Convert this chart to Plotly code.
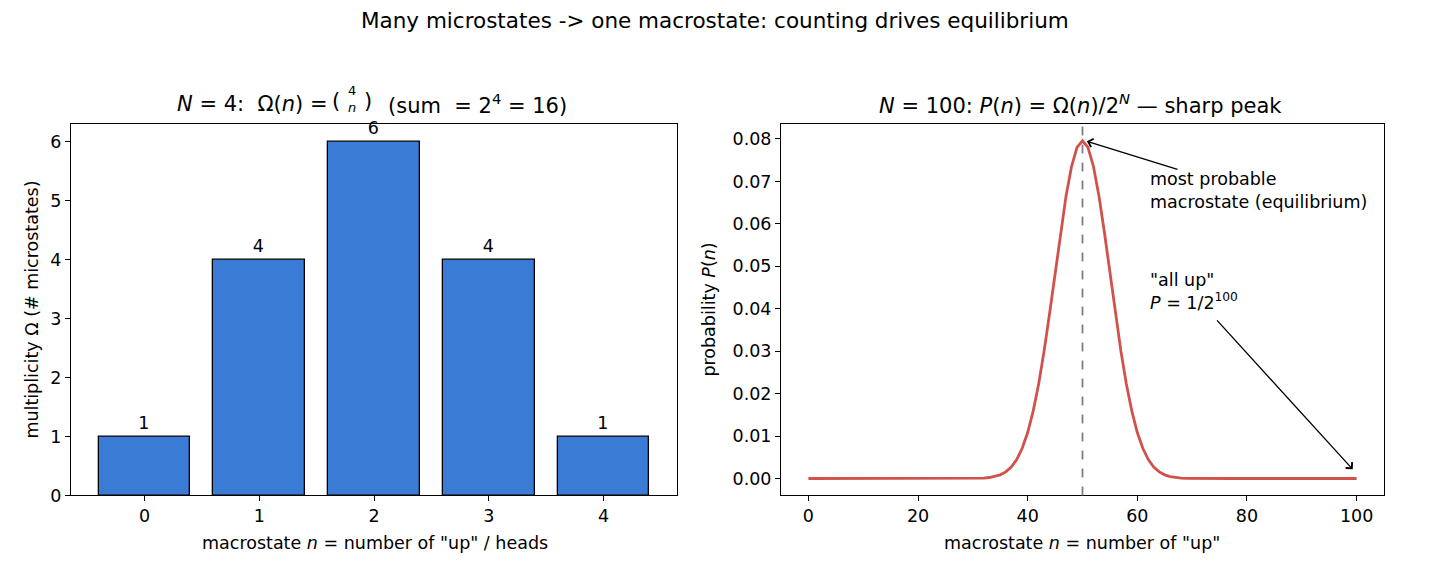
import plotly.graph_objects as go

# ---- data ----
n_small = [0, 1, 2, 3, 4]
omega_small = [1, 4, 6, 4, 1]

n_big = list(range(0, 101))
p_big = [
    0, 0, 0, 0, 0, 0, 0, 0, 0, 0,
    0, 0, 0, 0, 0, 0, 0, 0, 0, 0,
    0, 0, 0, 0, 0, 0, 0, 0, 0, 0.00001,
    0.00002, 0.00005, 0.00011, 0.00023, 0.00046, 0.00086, 0.00156, 0.00270, 0.00447, 0.00711,
    0.01084, 0.01587, 0.02229, 0.03007, 0.03895, 0.04847, 0.05796, 0.06659, 0.07353, 0.07803,
    0.07959,
    0.07803, 0.07353, 0.06659, 0.05796, 0.04847, 0.03895, 0.03007, 0.02229, 0.01587, 0.01084,
    0.00711, 0.00447, 0.00270, 0.00156, 0.00086, 0.00046, 0.00023, 0.00011, 0.00005, 0.00002,
    0.00001, 0, 0, 0, 0, 0, 0, 0, 0, 0,
    0, 0, 0, 0, 0, 0, 0, 0, 0, 0,
    0, 0, 0, 0, 0, 0, 0, 0, 0, 0,
]
n_peak = 50

left_xticks = [0, 1, 2, 3, 4]
left_yticks = [0, 1, 2, 3, 4, 5, 6]
right_xticks = [0, 20, 40, 60, 80, 100]
right_yticks = [0.00, 0.01, 0.02, 0.03, 0.04, 0.05, 0.06, 0.07, 0.08]

FONT = "DejaVu Sans"
W, H = 1430, 585
FS = 17.5      # base text size
FT = 21        # subplot titles
FSUP = 21.5    # suptitle

fig = go.Figure()

fig.add_trace(go.Bar(
    x=n_small, y=omega_small, width=0.8,
    marker=dict(color="#3a7bd5", line=dict(color="black", width=1.3)),
    text=[str(v) for v in omega_small], textposition="outside",
    textfont=dict(family=FONT, size=FS, color="black"),
    cliponaxis=False, xaxis="x", yaxis="y", showlegend=False,
))

fig.add_trace(go.Scatter(
    x=n_big, y=p_big, mode="lines",
    line=dict(color="#d1524b", width=2.8),
    xaxis="x2", yaxis="y2", showlegend=False,
))

def px_x(p):
    return p / W

def px_y(p):
    return 1 - p / H

axis_common = dict(
    showline=True, mirror=True, linecolor="black", linewidth=1,
    ticks="outside", ticklen=5, tickcolor="black", tickwidth=1,
    showgrid=False, zeroline=False,
    tickfont=dict(family=FONT, size=FS, color="black"),
)

fig.update_layout(
    width=W, height=H,
    margin=dict(l=0, r=0, t=0, b=0),
    plot_bgcolor="white", paper_bgcolor="white",
    font=dict(family=FONT, color="black"),
    bargap=0,
    uniformtext=dict(minsize=8, mode="show"),
    xaxis=dict(domain=[px_x(71), px_x(677)], range=[-0.64, 4.64],
               tickvals=left_xticks, anchor="y", **axis_common),
    yaxis=dict(domain=[px_y(504), px_y(126)], range=[0, 6.3],
               tickvals=left_yticks, anchor="x", **axis_common),
    xaxis2=dict(domain=[px_x(781), px_x(1384)], range=[-5, 105],
                tickvals=right_xticks, anchor="y2", **axis_common),
    yaxis2=dict(domain=[px_y(504), px_y(126)], range=[-0.00398, 0.08357],
                tickvals=right_yticks, tickformat=".2f", anchor="x2", **axis_common),
)

fig.add_shape(type="line", xref="x2", yref="y2 domain", x0=n_peak, x1=n_peak, y0=0, y1=1,
              line=dict(color="#808080", width=1.8, dash="dash"))

ann = []
def text_ann(txt, x, y, size, xanchor="center", yanchor="middle", angle=0, align="center",
             xref="paper", yref="paper", borderpad=1):
    ann.append(dict(text=txt, x=x, y=y, xref=xref, yref=yref, showarrow=False,
                    xanchor=xanchor, yanchor=yanchor, textangle=angle, align=align,
                    borderpad=borderpad,
                    font=dict(family=FONT, size=size, color="black")))

text_ann("Many microstates -&gt; one macrostate: counting drives equilibrium",
         px_x(715), px_y(21), FSUP)

# left title, with a stacked binomial coefficient
text_ann("<i>N</i> = 4:  Ω(<i>n</i>) =", px_x(329), px_y(106), FT, xanchor="right")
text_ann("(", px_x(336), px_y(103), 21)
text_ann(")", px_x(368), px_y(103), 21)
text_ann("4<br><i>n</i>", px_x(352), px_y(101), 13, borderpad=0)
text_ann("(sum  = 2<sup>4</sup> = 16)", px_x(386), px_y(106), FT, xanchor="left")

text_ann("<i>N</i> = 100: <i>P</i>(<i>n</i>) = Ω(<i>n</i>)/2<sup><i>N</i></sup> — sharp peak",
         px_x(1080), px_y(106), FT)
text_ann("macrostate <i>n</i> = number of \"up\" / heads", px_x(375), px_y(552), FS)
text_ann("macrostate <i>n</i> = number of \"up\"", px_x(1082), px_y(552), FS)
text_ann("multiplicity Ω (# microstates)", px_x(32), px_y(315), FS, angle=-90)
text_ann("probability <i>P</i>(<i>n</i>)", px_x(709), px_y(315), FS, angle=-90)

text_ann("most probable<br>macrostate (equilibrium)", 62, 0.0735, FS,
         xanchor="left", yanchor="top", align="left", xref="x2", yref="y2")
text_ann("\"all up\"<br><i>P</i> = 1/2<sup>100</sup>", 62, 0.0497, FS,
         xanchor="left", yanchor="top", align="left", xref="x2", yref="y2")

for (tx, ty, hx, hy) in [(67.6, 0.07275, 50.8, 0.07947), (74.3, 0.03762, 99.3, 0.00215)]:
    ann.append(dict(text="", x=hx, y=hy, xref="x2", yref="y2",
                    ax=tx, ay=ty, axref="x2", ayref="y2",
                    showarrow=True, arrowhead=4, arrowsize=1.3, arrowwidth=1.3,
                    arrowcolor="black", standoff=0, startstandoff=0))

fig.update_layout(annotations=ann)

fig.write_html("out.html")
